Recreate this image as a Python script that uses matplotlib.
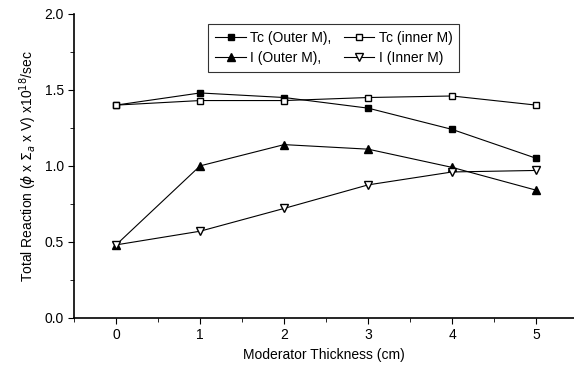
import matplotlib.pyplot as plt
from matplotlib.ticker import MultipleLocator

plt.rcParams['font.family'] = ['Liberation Sans', 'DejaVu Sans']

thickness = [0, 1, 2, 3, 4, 5]
tc_outer = [1.40, 1.48, 1.45, 1.38, 1.24, 1.05]
tc_inner = [1.40, 1.43, 1.43, 1.45, 1.46, 1.40]
i_outer = [0.48, 1.00, 1.14, 1.11, 0.99, 0.84]
i_inner = [0.48, 0.57, 0.72, 0.875, 0.96, 0.97]

fig = plt.figure(figsize=(5.74, 3.67), dpi=100)
ax = fig.add_axes([0.129, 0.134, 0.871, 0.828])

lw = 0.8
h1, = ax.plot(thickness, tc_outer, color='black', lw=lw, marker='s', ms=5,
              mfc='black', label='Tc (Outer M),')
h2, = ax.plot(thickness, tc_inner, color='black', lw=lw, marker='s', ms=5,
              mfc='white', label='Tc (inner M)')
h3, = ax.plot(thickness, i_outer, color='black', lw=lw, marker='^', ms=6,
              mfc='black', label='I (Outer M),')
h4, = ax.plot(thickness, i_inner, color='black', lw=lw, marker='v', ms=6,
              mfc='white', label='I (Inner M)')

ax.set_xlim(-0.5, 5.45)
ax.set_ylim(0, 2.0)
ax.xaxis.set_major_locator(MultipleLocator(1))
ax.xaxis.set_minor_locator(MultipleLocator(0.5))
ax.yaxis.set_major_locator(MultipleLocator(0.5))
ax.yaxis.set_minor_locator(MultipleLocator(0.25))
ax.yaxis.set_major_formatter(plt.FormatStrFormatter('%.1f'))
ax.tick_params(which='both', direction='out', labelsize=10)
ax.tick_params(which='major', length=4)
ax.tick_params(which='minor', length=3)
ax.spines['top'].set_visible(False)
ax.spines['right'].set_visible(False)
ax.spines['left'].set_linewidth(1.2)
ax.spines['bottom'].set_linewidth(1.2)

ax.set_xlabel('Moderator Thickness (cm)', fontsize=10)
ax.set_ylabel(r'Total Reaction ($\phi$ x $\Sigma_a$ x V) x10$^{18}$/sec', fontsize=10)

leg = ax.legend(handles=[h1, h3, h2, h4], ncol=2, loc='upper left',
                bbox_to_anchor=(0.255, 0.99), fontsize=10, frameon=True,
                fancybox=False, edgecolor='black', handlelength=2.2,
                handletextpad=0.3, columnspacing=0.9, borderpad=0.5,
                labelspacing=0.45, markerscale=0.9)
leg.get_frame().set_linewidth(0.8)

fig.savefig('out.png', dpi=100)
